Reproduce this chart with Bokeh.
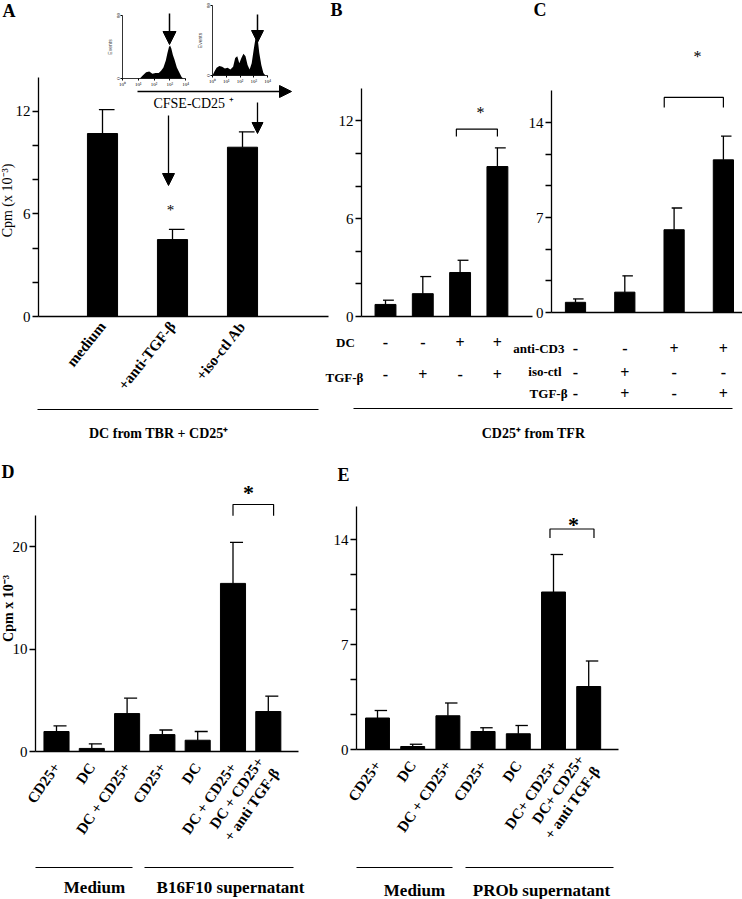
import numpy as np
from bokeh.plotting import figure
from bokeh.models import Range1d, LinearAxis, FixedTicker, Arrow, NormalHead
from bokeh.core.properties import value
from bokeh.embed import file_html
from bokeh.resources import INLINE

SERIF = "Liberation Serif"

# ---------------- data ----------------
A_categories = ["medium", "+anti-TGF-β", "+iso-ctl Ab"]
A_values = [10.7, 4.5, 9.9]
A_errors = [1.4, 0.6, 0.9]
A_ticks, A_minor = [0, 6, 12], [2, 4, 8, 10]

B_values = [0.74, 1.4, 2.7, 9.2]
B_errors = [0.26, 1.05, 0.75, 1.15]
B_DC = ["-", "-", "+", "+"]
B_TGF = ["-", "+", "-", "+"]
B_ticks, B_minor = [0, 6, 12], [2, 4, 8, 10]

C_values = [0.75, 1.5, 6.1, 11.25]
C_errors = [0.25, 1.2, 1.6, 1.75]
C_antiCD3 = ["-", "-", "+", "+"]
C_isoctl = ["-", "+", "-", "-"]
C_TGF = ["-", "+", "-", "+"]
C_ticks, C_minor = [0, 7, 14], [7 / 3, 14 / 3, 28 / 3, 35 / 3]

D_categories = ["CD25+", "DC", "DC + CD25+", "CD25+", "DC", "DC + CD25+",
                "DC + CD25+\n+ anti TGF-β"]
D_values = [1.95, 0.3, 3.7, 1.65, 1.1, 16.4, 3.9]
D_errors = [0.55, 0.45, 1.5, 0.45, 0.85, 4.0, 1.5]
D_ticks, D_minor = [0, 10, 20], []

E_categories = ["CD25+", "DC", "DC + CD25+", "CD25+", "DC", "DC+ CD25+",
                "DC+ CD25+\n+ anti TGF-β"]
E_values = [2.1, 0.2, 2.25, 1.2, 1.05, 10.5, 4.2]
E_errors = [0.5, 0.15, 0.85, 0.25, 0.55, 2.5, 1.7]
E_ticks, E_minor = [0, 7, 14], [7 / 3, 14 / 3, 28 / 3, 35 / 3]

# flow-cytometry histograms (log10 fluorescence, events)
H1_log = [0.0, 1.1, 1.3, 1.5, 1.7, 1.9, 2.1, 2.3, 2.45, 2.6, 2.75, 2.85, 2.95,
          3.02, 3.1, 3.2, 3.3, 3.45, 3.6, 3.75, 3.85]
H1_events = [0, 0, 4, 8, 9, 6, 7, 7, 10, 14, 23, 32, 40, 42, 38, 30, 24, 14, 8, 2, 0]
H2_log = [0.0, 0.15, 0.3, 0.5, 0.7, 0.9, 1.1, 1.3, 1.5, 1.65, 1.8, 1.95, 2.1,
          2.25, 2.4, 2.55, 2.7, 2.85, 3.0, 3.1, 3.2, 3.3, 3.4, 3.55, 3.7, 3.85]
H2_events = [0, 5, 9, 11, 10, 8, 9, 7, 10, 20, 22, 14, 20, 25, 22, 12, 7, 14,
             30, 40, 46, 40, 26, 12, 3, 0]
H_ticks = [0, 1, 2, 3, 4]
H_tick_labels = ["10⁰", "10¹", "10²", "10³", "10⁴"]

# significance brackets: (x_from, x_to, top, leg_end)
B_bracket = (1.9, 3.0, 11.5, 11.05)
C_bracket = (1.8, 3.0, 15.85, 15.1)
D_bracket = (5.0, 6.15, 24.1, 23.0)
E_bracket = (4.9, 6.15, 14.7, 14.1)

# ---------------- layout (pixel geometry) ----------------
X0, X1, YT, YB = 0, 742, 0, 899
PANELS = {
    "A": dict(c0=102, step=70.0, y0=316, k=17.1, axis_x=38, right=328, top=14, w=0.43),
    "B": dict(c0=385, step=37.3, y0=316, k=16.3, axis_x=361, right=532, top=14, w=0.56),
    "C": dict(c0=575, step=49.3, y0=312, k=13.57, axis_x=551, right=742, top=16.36, w=0.41),
    "D": dict(c0=56, step=35.3, y0=751, k=10.25, axis_x=35, right=298, top=23, w=0.71),
    "E": dict(c0=377, step=35.2, y0=749, k=15.0, axis_x=356, right=618, top=16.2, w=0.68),
    "h1": dict(c0=122, step=15.75, y0=78, k=0.7875),
    "h2": dict(c0=212, step=13.75, y0=75, k=0.875),
}

p = figure(width=742, height=899, x_range=Range1d(X0, X1), y_range=Range1d(YB, YT),
           x_axis_type=None, y_axis_type=None, toolbar_location=None,
           output_backend="svg", min_border=0, outline_line_color=None)
p.background_fill_color = "white"
p.border_fill_color = "white"

ex, ey = {}, {}
for n, L in PANELS.items():
    ex[n] = Range1d((X0 - L["c0"]) / L["step"], (X1 - L["c0"]) / L["step"])
    ey[n] = Range1d((L["y0"] - YB) / L["k"], (L["y0"] - YT) / L["k"])
p.extra_x_ranges = ex
p.extra_y_ranges = ey

LW = 1.3


def draw_bars(name, vals, errs):
    L = PANELS[name]
    idx = np.arange(len(vals), dtype=float)
    w = L["w"]
    vals = np.array(vals, dtype=float)
    tops = vals + np.array(errs, dtype=float)
    p.vbar(x=idx, top=vals, bottom=0, width=w, fill_color="black", line_color="black",
           x_range_name=name, y_range_name=name)
    p.segment(x0=idx, y0=vals, x1=idx, y1=tops, line_color="black", line_width=LW,
              x_range_name=name, y_range_name=name)
    p.segment(x0=idx - 0.12 * w, y0=tops, x1=idx + 0.4 * w, y1=tops, line_color="black",
              line_width=LW, x_range_name=name, y_range_name=name)


def add_axes(name, major, minor, n, labels=None, size="15px", standoff=8, angle=0.92):
    L = PANELS[name]
    ax_idx = (L["axis_x"] - L["c0"]) / L["step"]
    right_idx = (L["right"] - L["c0"]) / L["step"]
    yax = LinearAxis(x_range_name=name, y_range_name=name, fixed_location=ax_idx,
                     bounds=(0, L["top"]), ticker=FixedTicker(ticks=major, minor_ticks=minor),
                     major_tick_out=6, major_tick_in=0, minor_tick_out=6, minor_tick_in=0,
                     axis_line_width=LW, major_tick_line_width=LW, minor_tick_line_width=LW,
                     major_label_text_font=SERIF, major_label_text_font_size="15px",
                     major_label_text_color="black", major_label_standoff=2)
    p.add_layout(yax, "left")
    kw = {}
    if labels:
        kw["major_label_overrides"] = {i: lab for i, lab in enumerate(labels)}
    xax = LinearAxis(x_range_name=name, y_range_name=name, fixed_location=0,
                     bounds=(ax_idx, right_idx),
                     ticker=FixedTicker(ticks=list(range(n)) if labels else []),
                     major_tick_out=0, major_tick_in=0, minor_tick_out=0, minor_tick_in=0,
                     axis_line_width=LW, major_label_orientation=angle,
                     major_label_text_font=SERIF, major_label_text_font_style="bold",
                     major_label_text_color="black",
                     major_label_text_font_size=size, major_label_standoff=standoff, **kw)
    p.add_layout(xax, "below")


def bracket(name, br):
    x0, x1, top, leg = br
    p.line(x=[x0, x0, x1, x1], y=[leg, top, top, leg], line_color="black", line_width=1.2,
           x_range_name=name, y_range_name=name)


def txt(x, y, t, size, bold=True, align="center", angle=0.0, baseline="middle", **kw):
    p.text(x=x, y=y, text=t, text_font=value(SERIF), text_font_size=size,
           text_font_style="bold" if bold else "normal", text_align=align,
           text_baseline=baseline, angle=angle, text_color="black", **kw)


# ---------------- panels ----------------
draw_bars("A", A_values, A_errors)
add_axes("A", A_ticks, A_minor, 3, A_categories, "15px", standoff=7, angle=0.9)
draw_bars("B", B_values, B_errors)
add_axes("B", B_ticks, B_minor, 4)
draw_bars("C", C_values, C_errors)
add_axes("C", C_ticks, C_minor, 4)
draw_bars("D", D_values, D_errors)
add_axes("D", D_ticks, D_minor, 7, D_categories, "15px", standoff=13, angle=0.96)
draw_bars("E", E_values, E_errors)
add_axes("E", E_ticks, E_minor, 7, E_categories, "15px", standoff=13, angle=0.96)

bracket("B", B_bracket)
bracket("C", C_bracket)
bracket("D", D_bracket)
bracket("E", E_bracket)

# histograms
for name, lx, ev in (("h1", H1_log, H1_events), ("h2", H2_log, H2_events)):
    p.varea(x=lx, y1=0, y2=ev, fill_color="black", x_range_name=name, y_range_name=name)
    hy = LinearAxis(x_range_name=name, y_range_name=name, fixed_location=0, bounds=(0, 80),
                    ticker=FixedTicker(ticks=[0, 80]), major_tick_out=2, major_tick_in=0,
                    minor_tick_out=0, minor_tick_in=0, axis_line_width=0.8,
                    major_label_text_font=SERIF, major_label_text_font_size="5px",
                    major_label_text_color="black",
                    major_label_orientation="vertical", major_label_standoff=1,
                    axis_label="Events", axis_label_text_font_size="5px",
                    axis_label_text_font_style="normal", axis_label_standoff=1)
    p.add_layout(hy, "left")
    hx = LinearAxis(x_range_name=name, y_range_name=name, fixed_location=0, bounds=(0, 4),
                    ticker=FixedTicker(ticks=H_ticks), major_tick_out=2, major_tick_in=0,
                    minor_tick_out=0, minor_tick_in=0, axis_line_width=0.8,
                    major_label_overrides={t: s for t, s in zip(H_ticks, H_tick_labels)},
                    major_label_text_font=SERIF, major_label_text_font_size="5px",
                    major_label_text_color="black", major_label_standoff=1)
    p.add_layout(hx, "below")

# arrows (pixel geometry)
for xs, ys, xe, ye, sz, lw in ((169, 13, 169, 44, 13, 1.5), (257, 14, 257, 42, 12, 1.5),
                               (137, 91, 291, 91, 12, 1.5), (168, 115, 168, 185, 12, 1.3),
                               (257, 102, 257, 133, 11, 1.3)):
    p.add_layout(Arrow(end=NormalHead(size=sz, fill_color="black", line_color="black"),
                       x_start=xs, y_start=ys, x_end=xe, y_end=ye, line_width=lw,
                       line_color="black"))

txt([193], [103], ["CFSE-CD25 ⁺"], "14px", bold=False)

# y-axis titles
txt([7], [200], ["Cpm (x 10⁻³)"], "14px", bold=False, angle=np.pi / 2)
txt([8], [608], ["Cpm x 10⁻³"], "14px", bold=True, angle=np.pi / 2)

# panel letters
txt([2, 330, 533, 1, 337], [10, 9, 9, 471, 474], ["A", "B", "C", "D", "E"], "18px",
    align="left")

# asterisks
txt([170], [209], ["*"], "15px", bold=False)
txt([480], [112], ["*"], "16px", bold=False)
txt([697], [56], ["*"], "16px", bold=False)
txt([248], [492], ["*"], "22px", bold=True)
txt([573], [524], ["*"], "22px", bold=True)

# B table
idxB = list(range(4))
txt([345], [342], ["DC"], "13px")
txt([344], [377], ["TGF-β"], "13px")
txt(idxB, [342] * 4, B_DC, "16px", x_range_name="B")
txt(idxB, [374] * 4, B_TGF, "16px", x_range_name="B")
# C table
idxC = list(range(4))
txt([564], [348], ["anti-CD3"], "13px", align="right")
txt([561], [371], ["iso-ctl"], "13px", align="right")
txt([567], [393], ["TGF-β"], "13px", align="right")
txt(idxC, [348] * 4, C_antiCD3, "16px", x_range_name="C")
txt(idxC, [372] * 4, C_isoctl, "16px", x_range_name="C")
txt(idxC, [393] * 4, C_TGF, "16px", x_range_name="C")

# group lines and labels
p.segment(x0=[37, 353, 35, 144, 356, 465], y0=[409, 408, 867, 867, 867, 867],
          x1=[318, 732, 132, 293, 452, 613], y1=[409, 408, 867, 867, 867, 867],
          line_color="black", line_width=1.2)
txt([160], [433], ["DC from  TBR + CD25⁺"], "14px")
txt([533], [433], ["CD25⁺ from TFR"], "14px")
txt([94, 230, 414, 541], [887, 887, 890, 890],
    ["Medium", "B16F10 supernatant", "Medium", "PROb supernatant"], "17px")

open("out.html", "w").write(file_html(p, INLINE))
